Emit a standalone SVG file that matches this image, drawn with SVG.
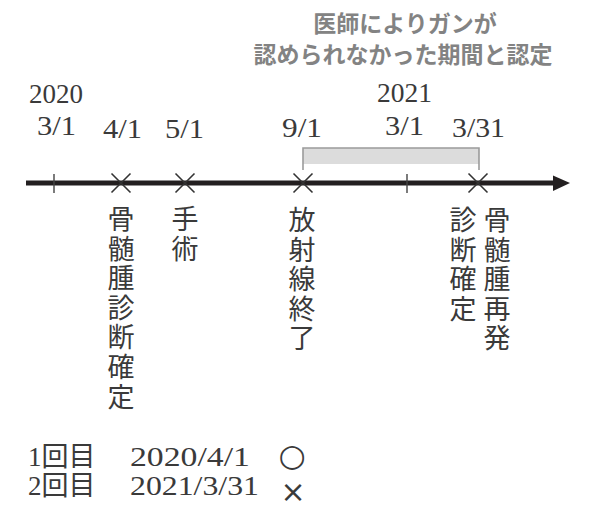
<svg xmlns="http://www.w3.org/2000/svg" width="598" height="511" viewBox="0 0 598 511">
<style>
.num{font-family:"Liberation Serif","Noto Sans CJK JP",serif;font-size:27px;fill:#3a3a3a}
.vt{font-family:"Liberation Serif","Noto Sans CJK JP",serif;font-size:27px;fill:#3a3a3a;text-anchor:middle}
.sym{font-family:"DejaVu Sans","Noto Sans CJK JP",sans-serif;fill:#3a3a3a;text-anchor:middle}
.ttl{font-family:"Noto Sans CJK JP",sans-serif;font-size:23px;font-weight:700;fill:#838383;text-anchor:middle}
.mark{stroke:#333;stroke-width:1.6;fill:none}
.tick{stroke:#444;stroke-width:1.4}
</style>
<rect width="598" height="511" fill="#fff"/>
<g id="title">
<text class="ttl" x="405" y="32">医師によりガンが</text>
<text class="ttl" x="403" y="63">認められなかった期間と認定</text>
</g>
<g id="period">
<rect x="303" y="148" width="176" height="16" fill="#dcdcdc"/>
<path d="M303,170V148H479V170" fill="none" stroke="#9b9b9b" stroke-width="1.6"/>
</g>
<g id="connectors">
<line x1="26" y1="183" x2="556" y2="183" stroke="#231f20" stroke-width="5"/>
<polygon points="553,175.5 570,183 553,191" fill="#231f20"/>
</g>
<g id="ticks">
<line class="tick" x1="54" y1="174" x2="54" y2="193"/>
<line class="tick" x1="407" y1="174" x2="407" y2="193"/>
</g>
<g id="dates">
<text class="num" x="29" y="103" textLength="54" lengthAdjust="spacingAndGlyphs">2020</text>
<text class="num" x="37" y="135" textLength="39" lengthAdjust="spacingAndGlyphs">3/1</text>
<text class="num" x="377" y="102" textLength="55" lengthAdjust="spacingAndGlyphs">2021</text>
<text class="num" x="385" y="135" textLength="39" lengthAdjust="spacingAndGlyphs">3/1</text>
</g>
<g id="ev1">
<path class="mark" d="M111.5,173.5L130.5,192.5M130.5,173.5L111.5,192.5"/>
<text class="num" x="103" y="138" textLength="39" lengthAdjust="spacingAndGlyphs">4/1</text>
<text class="vt" x="121" y="229"><tspan x="121">骨</tspan><tspan x="121" dy="29.6">髄</tspan><tspan x="121" dy="29.6">腫</tspan><tspan x="121" dy="29.6">診</tspan><tspan x="121" dy="29.6">断</tspan><tspan x="121" dy="29.6">確</tspan><tspan x="121" dy="29.6">定</tspan></text>
</g>
<g id="ev2">
<path class="mark" d="M175.5,173.5L194.5,192.5M194.5,173.5L175.5,192.5"/>
<text class="num" x="165" y="138" textLength="39" lengthAdjust="spacingAndGlyphs">5/1</text>
<text class="vt" x="185" y="229"><tspan x="185">手</tspan><tspan x="185" dy="29.6">術</tspan></text>
</g>
<g id="ev3">
<path class="mark" d="M293.5,173.5L312.5,192.5M312.5,173.5L293.5,192.5"/>
<text class="num" x="282" y="137" textLength="40" lengthAdjust="spacingAndGlyphs">9/1</text>
<text class="vt" x="302" y="230"><tspan x="302">放</tspan><tspan x="302" dy="29.6">射</tspan><tspan x="302" dy="29.6">線</tspan><tspan x="302" dy="29.6">終</tspan><tspan x="302" dy="29.6">了</tspan></text>
</g>
<g id="ev4">
<path class="mark" d="M468.5,173.5L487.5,192.5M487.5,173.5L468.5,192.5"/>
<text class="num" x="452" y="137" textLength="53" lengthAdjust="spacingAndGlyphs">3/31</text>
<text class="vt" x="463" y="230"><tspan x="463">診</tspan><tspan x="463" dy="29.6">断</tspan><tspan x="463" dy="29.6">確</tspan><tspan x="463" dy="29.6">定</tspan></text>
<text class="vt" x="497" y="230"><tspan x="497">骨</tspan><tspan x="497" dy="29.6">髄</tspan><tspan x="497" dy="29.6">腫</tspan><tspan x="497" dy="29.6">再</tspan><tspan x="497" dy="29.6">発</tspan></text>
</g>
<g id="results">
<text class="num" x="28" y="466">1回目</text>
<text class="num" x="130" y="466" textLength="120" lengthAdjust="spacingAndGlyphs">2020/4/1</text>
<text class="sym" x="292" y="466" font-size="31">○</text>
<text class="num" x="28" y="495">2回目</text>
<text class="num" x="130" y="495" textLength="129" lengthAdjust="spacingAndGlyphs">2021/3/31</text>
<text class="sym" x="293" y="502" font-size="30">×</text>
</g>
</svg>
